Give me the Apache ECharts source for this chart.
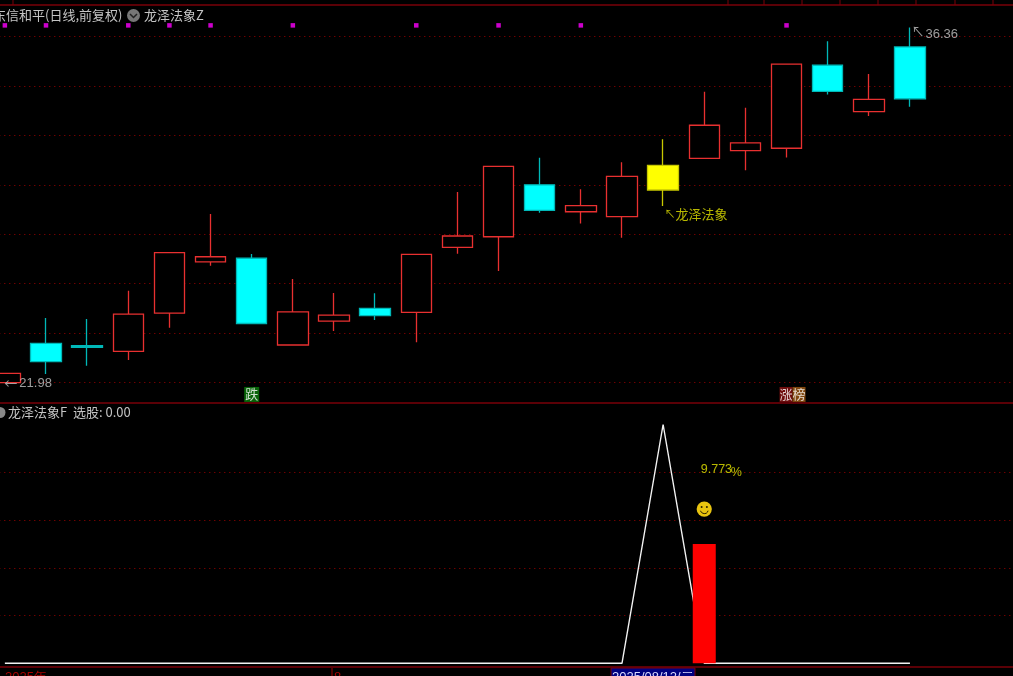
<!DOCTYPE html>
<html>
<head>
<meta charset="utf-8">
<style>html,body{margin:0;padding:0;background:#000;overflow:hidden}#c{width:1013px;height:676px}</style>
<script src="https://cdn.jsdelivr.net/npm/echarts@6/dist/echarts.min.js"></script>
</head>
<body>
<div id="c"></div>
<script>
const categories = ['07/22','07/23','07/24','07/25','07/28','07/29','07/30','07/31','08/01','08/04','08/05','08/06','08/07','08/08','08/11','08/12','08/13','08/14','08/15','08/18','08/19','08/20','08/21','',''];
const opens  = [22.00,23.59,23.49,23.26,24.81,26.88,27.03,23.52,24.49,25.00,24.84,27.47,27.90,30.00,28.91,28.71,30.79,31.07,31.38,31.48,34.84,32.96,35.58];
const closes = [22.37,22.85,23.43,24.77,27.26,27.09,24.39,24.86,24.73,24.71,27.19,27.93,30.75,28.97,29.16,30.34,29.79,32.41,31.70,34.88,33.78,33.46,33.48];
const lows   = [21.98,22.35,22.68,22.91,24.22,26.73,24.39,23.52,24.09,24.53,23.63,27.21,26.51,28.87,28.44,27.86,29.14,31.07,30.59,31.11,33.65,32.78,33.16];
const highs  = [22.37,24.61,24.57,25.71,27.26,28.82,27.20,26.19,25.62,25.61,27.19,29.71,30.75,31.10,29.82,30.91,31.84,33.77,33.12,34.88,35.81,34.48,36.36];
const highlightIndex = 16;
const signalIndex = [0,1,3,4,5,7,10,12,14,19];
const signalLevel = 36.45;
const lineValues = [0,0,0,0,0,0,0,0,0,0,0,0,0,0,0,0,100,0,0,0,0,0,0];
const barIndex = 17, barValue = 50;
const smileValue = 64.6, pctValue = 81.2;
const txt = 'Noto Sans CJK SC', num = 'Liberation Sans';
const grey = '#c4c4c4', yel = '#e6e600';

const candleData = opens.map((o,i)=>{
  const c = closes[i], down = c < o;
  const fill = i===highlightIndex ? '#ffff00' : (down ? '#00ffff' : '#000');
  const edge = i===highlightIndex ? '#c8c800' : (down ? '#00b8b8' : '#e83030');
  return {value:[o,c,lows[i],highs[i]],itemStyle:{color:fill,color0:fill,borderColor:edge,borderColor0:edge,borderWidth:1.3}};
});
const note = (idx,val,formatter,pos,offset,extra) => ({value:[idx,val],label:Object.assign({show:true,position:pos,offset,formatter},extra)});
const notes = [
  note(0,22.0,'←','right',[-6,0],{color:grey,fontFamily:txt,fontSize:13}),
  note(0,21.98,'21.98','right',[9,0],{color:grey,fontFamily:num,fontSize:13}),
  note(22,36.1,'↖','right',[-4,-3],{color:grey,fontFamily:txt,fontSize:13}),
  note(22,36.1,'36.36','right',[10,0],{color:grey,fontFamily:num,fontSize:13}),
  note(16,28.82,'↖','right',[-4,0],{color:yel,fontFamily:txt,fontSize:11}),
  note(16,28.82,'龙泽法象','right',[7,0],{color:yel,fontFamily:txt,fontSize:13}),
  note(6,21.52,'{g|跌}','inside',[0,0],{rich:{g:{backgroundColor:'#0a7d0a',color:'#fff',fontFamily:txt,fontSize:13,padding:[1,1],lineHeight:14}}}),
  note(19,21.52,'{r|涨}{o|榜}','inside',[6,0],{rich:{r:{backgroundColor:'#8a1010',color:'#fff',fontFamily:txt,fontSize:13,lineHeight:14,padding:[1,0]},o:{backgroundColor:'#a05a14',color:'#fff',fontFamily:txt,fontSize:13,lineHeight:14,padding:[1,0]}}})
];
const lowerNotes = [
  note(barIndex,pctValue,'9.773','right',[-9,0],{color:yel,fontFamily:num,fontSize:12.5}),
  note(barIndex,pctValue-1.2,'%','right',[21,0],{color:yel,fontFamily:num,fontSize:12.5})
];
const hidden = {axisLine:{show:false},axisTick:{show:false},axisLabel:{show:false}};
const dotted = {show:true,showMinLine:false,showMaxLine:false,lineStyle:{color:'#a00000',type:[1,4],width:1}};
const line = (x1,y1,x2,y2,c,w) => ({type:'line',silent:true,shape:{x1,y1,x2,y2},style:{stroke:c||'#7a0008',lineWidth:w||1.5}});
const text = (x,y,t,c,f,s) => ({type:'text',silent:true,x,y,style:{text:t,fill:c,font:(s||13)+'px "'+(f||txt)+'"',textVerticalAlign:'middle'}});
const option = {
  backgroundColor:'#000',
  animation:false,
  grid:[
    {outerBoundsMode:'none',left:-15.7,width:1028.5,top:-12.94,height:444.96},
    {outerBoundsMode:'none',left:-15.7,width:1028.5,top:424.5,height:238.8}
  ],
  xAxis:[
    Object.assign({type:'category',gridIndex:0,data:categories,boundaryGap:true,splitLine:{show:false}},hidden),
    Object.assign({type:'category',gridIndex:1,data:categories,boundaryGap:true,splitLine:{show:false}},hidden)
  ],
  yAxis:[
    Object.assign({type:'value',gridIndex:0,min:20,max:38,interval:2,splitLine:dotted},hidden),
    Object.assign({type:'value',gridIndex:1,min:0,max:100,interval:20,splitLine:dotted},hidden)
  ],
  series:[
    {type:'candlestick',xAxisIndex:0,yAxisIndex:0,barWidth:31,data:candleData,z:3},
    {type:'scatter',xAxisIndex:0,yAxisIndex:0,symbol:'rect',symbolSize:4.5,itemStyle:{color:'#ff00ff'},data:signalIndex.map(i=>[i,signalLevel]),z:4},
    {type:'scatter',xAxisIndex:0,yAxisIndex:0,symbolSize:1,itemStyle:{color:'rgba(0,0,0,0)'},data:notes,z:5},
    {type:'line',xAxisIndex:1,yAxisIndex:1,data:lineValues,symbol:'none',lineStyle:{color:'#f2f2f2',width:1.4},z:3},
    {type:'bar',xAxisIndex:1,yAxisIndex:1,barWidth:23,data:categories.map((c,i)=>i===barIndex?barValue:null),itemStyle:{color:'#ff0000'},z:4},
    {type:'scatter',xAxisIndex:1,yAxisIndex:1,symbolSize:1,itemStyle:{color:'rgba(0,0,0,0)'},data:lowerNotes,z:5},
    {type:'custom',xAxisIndex:1,yAxisIndex:1,data:[[barIndex,smileValue]],z:5,
     renderItem:(p,api)=>{
       const [x,y] = api.coord([api.value(0),api.value(1)]);
       return {type:'group',children:[
         {type:'circle',shape:{cx:x,cy:y,r:7.6},style:{fill:'#e8c410'}},
         {type:'circle',shape:{cx:x-2.6,cy:y-2,r:1},style:{fill:'#2a2000'}},
         {type:'circle',shape:{cx:x+2.6,cy:y-2,r:1},style:{fill:'#2a2000'}},
         {type:'arc',shape:{cx:x,cy:y+0.5,r:4,startAngle:0.3,endAngle:Math.PI-0.3},style:{stroke:'#2a2000',fill:null,lineWidth:1}}
       ]};
     }}
  ],
  graphic:[
    line(0,5,1013,5), line(0,403,1013,403), line(0,667,1013,667),
    line(13,0,13,5,'#7a0008',1),
    ...[728,764,802,840,878,916,955,993].map(x=>line(x,0,x,5,'#7a0008',1)),
    text(-7,15.5,'东信和平(日线,前复权)',grey),
    {type:'circle',silent:true,shape:{cx:133.5,cy:15.5,r:6.5},style:{fill:'#777'}},
    {type:'polyline',silent:true,shape:{points:[[130,14],[133.5,17.5],[137,14]]},style:{stroke:'#222',fill:null,lineWidth:1.5}},
    text(144,15.5,'龙泽法象Z',grey),
    {type:'circle',silent:true,shape:{cx:0,cy:412.5,r:5.5},style:{fill:'#888'}},
    text(8,412.5,'龙泽法象F  选股: 0.00',grey),
    line(332,668,332,676,'#a00000',1),
    text(5,677,'2025年','#a80000',num,13),
    text(334,677,'8','#a80000',num,13),
    {type:'rect',silent:true,shape:{x:611,y:668,width:84,height:10},style:{fill:'#000080',stroke:'#7a0008',lineWidth:1}},
    text(612,677,'2025/08/12/二','#d8d8ff',num,13)
  ]
};
echarts.init(document.getElementById('c')).setOption(option);
</script>
</body>
</html>
